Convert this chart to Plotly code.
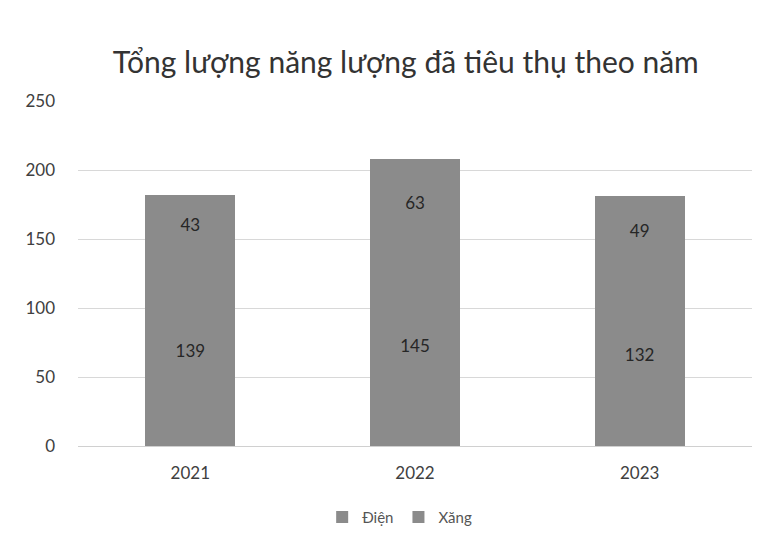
import plotly.graph_objects as go

years = ["2021", "2022", "2023"]
dien = [139, 145, 132]
xang = [43, 63, 49]
y_ticks = [0, 50, 100, 150, 200, 250]

fig = go.Figure()
fig.add_trace(go.Bar(name="Điện", x=years, y=dien, text=dien, textposition="inside",
                     insidetextanchor="middle", marker=dict(color="#8b8b8b", line=dict(width=0)),
                     textfont=dict(color="#262626", size=17)))
fig.add_trace(go.Bar(name="Xăng", x=years, y=xang, text=xang, textposition="inside",
                     insidetextanchor="middle", marker=dict(color="#8b8b8b", line=dict(width=0)),
                     textfont=dict(color="#262626", size=17)))

fig.update_layout(
    barmode="stack",
    bargap=0.6,
    width=762, height=536,
    margin=dict(l=70, r=18, t=93, b=98, autoexpand=False),
    paper_bgcolor="white", plot_bgcolor="white",
    font=dict(family="Lato", color="#404040"),
    title=dict(text="Tổng lượng năng lượng đã tiêu thụ theo năm", x=0.522, xanchor="center",
               y=0.899, yanchor="middle", font=dict(size=30, color="#333333")),
    legend=dict(orientation="h", xref="container", yref="container", x=0.514, xanchor="center",
                y=0.05, yanchor="middle",
                font=dict(size=15, color="#555555"), traceorder="normal"),
    uniformtext=dict(mode=False),
)
fig.update_xaxes(showline=True, linecolor="#d0d0d0", tickfont=dict(size=17, color="#404040"),
                 ticks="", ticklabelstandoff=12, automargin=False)
fig.update_yaxes(range=[0, 250], tickvals=y_ticks, gridcolor="#d8d8d8", zeroline=False,
                 tickfont=dict(size=17, color="#404040"), ticks="", ticklabelstandoff=22,
                 automargin=False)

fig.write_html("out.html")
